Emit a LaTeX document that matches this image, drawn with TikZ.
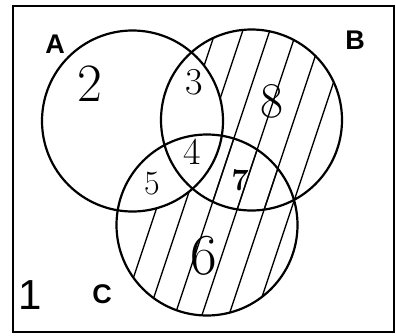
\documentclass[tikz,border=0pt]{standalone}
\usepackage{fontspec}
\newfontfamily\letterfont{Liberation Sans}
\begin{document}
\begin{tikzpicture}[x=1pt,y=-1pt,
  ring/.style={line width=2.2pt},
  hatch/.style={line width=1.4pt},
  frame/.style={line width=2.2pt},
  setlabel/.style={font=\fontsize{27}{27}\selectfont\letterfont\bfseries, inner sep=0pt},
  num/.style={font=\fontsize{#1}{#1}\selectfont, inner sep=0pt},
  num/.default=30]
\useasboundingbox (0,0) rectangle (396,335);
\fill[white] (0,0) rectangle (396,335);
\coordinate (cA) at (132.5,121);
\coordinate (cB) at (251.5,120);
\coordinate (cC) at (207,225);
% hatching of (B or C) minus A
\begin{scope}
  \clip (cB) circle[radius=90.5pt];
  \foreach \c in {226,253,...,388} \draw[hatch] (\c,0) -- ({\c-111.67},335);
\end{scope}
\begin{scope}
  \clip (cC) circle[radius=90.5pt];
  \foreach \c in {226,253,...,388} \draw[hatch] (\c,0) -- ({\c-111.67},335);
\end{scope}
\fill[white] (cA) circle[radius=90.5pt];
% circles
\draw[ring] (cA) circle[radius=90.5pt];
\draw[ring] (cB) circle[radius=90.5pt];
\draw[ring] (cC) circle[radius=90.5pt];
% frame
\draw[frame] (13,6) rectangle (394,332);
% labels
\node[setlabel] (lA) at (55,44) {A};
\node[setlabel] (lB) at (355,40) {B};
\node[setlabel] (lC) at (102,294) {C};
\node[font=\fontsize{42}{42}\selectfont\letterfont, inner sep=0pt] (l1) at (30,295) {1};
% region numbers
\node[num=54] (n2) at (90,84) {2};
\node[num=38] (n3) at (194,82) {3};
\node[num=50] (n8) at (272,101) {8};
\node[num=38] (n4) at (192,152) {4};
\node[font=\fontsize{31}{31}\selectfont\bfseries, inner sep=0pt] (n7) at (240,180) {7};
\node[num=34] (n5) at (152,184) {5};
\node[num=58] (n6) at (204,256) {6};
\end{tikzpicture}
\end{document}
